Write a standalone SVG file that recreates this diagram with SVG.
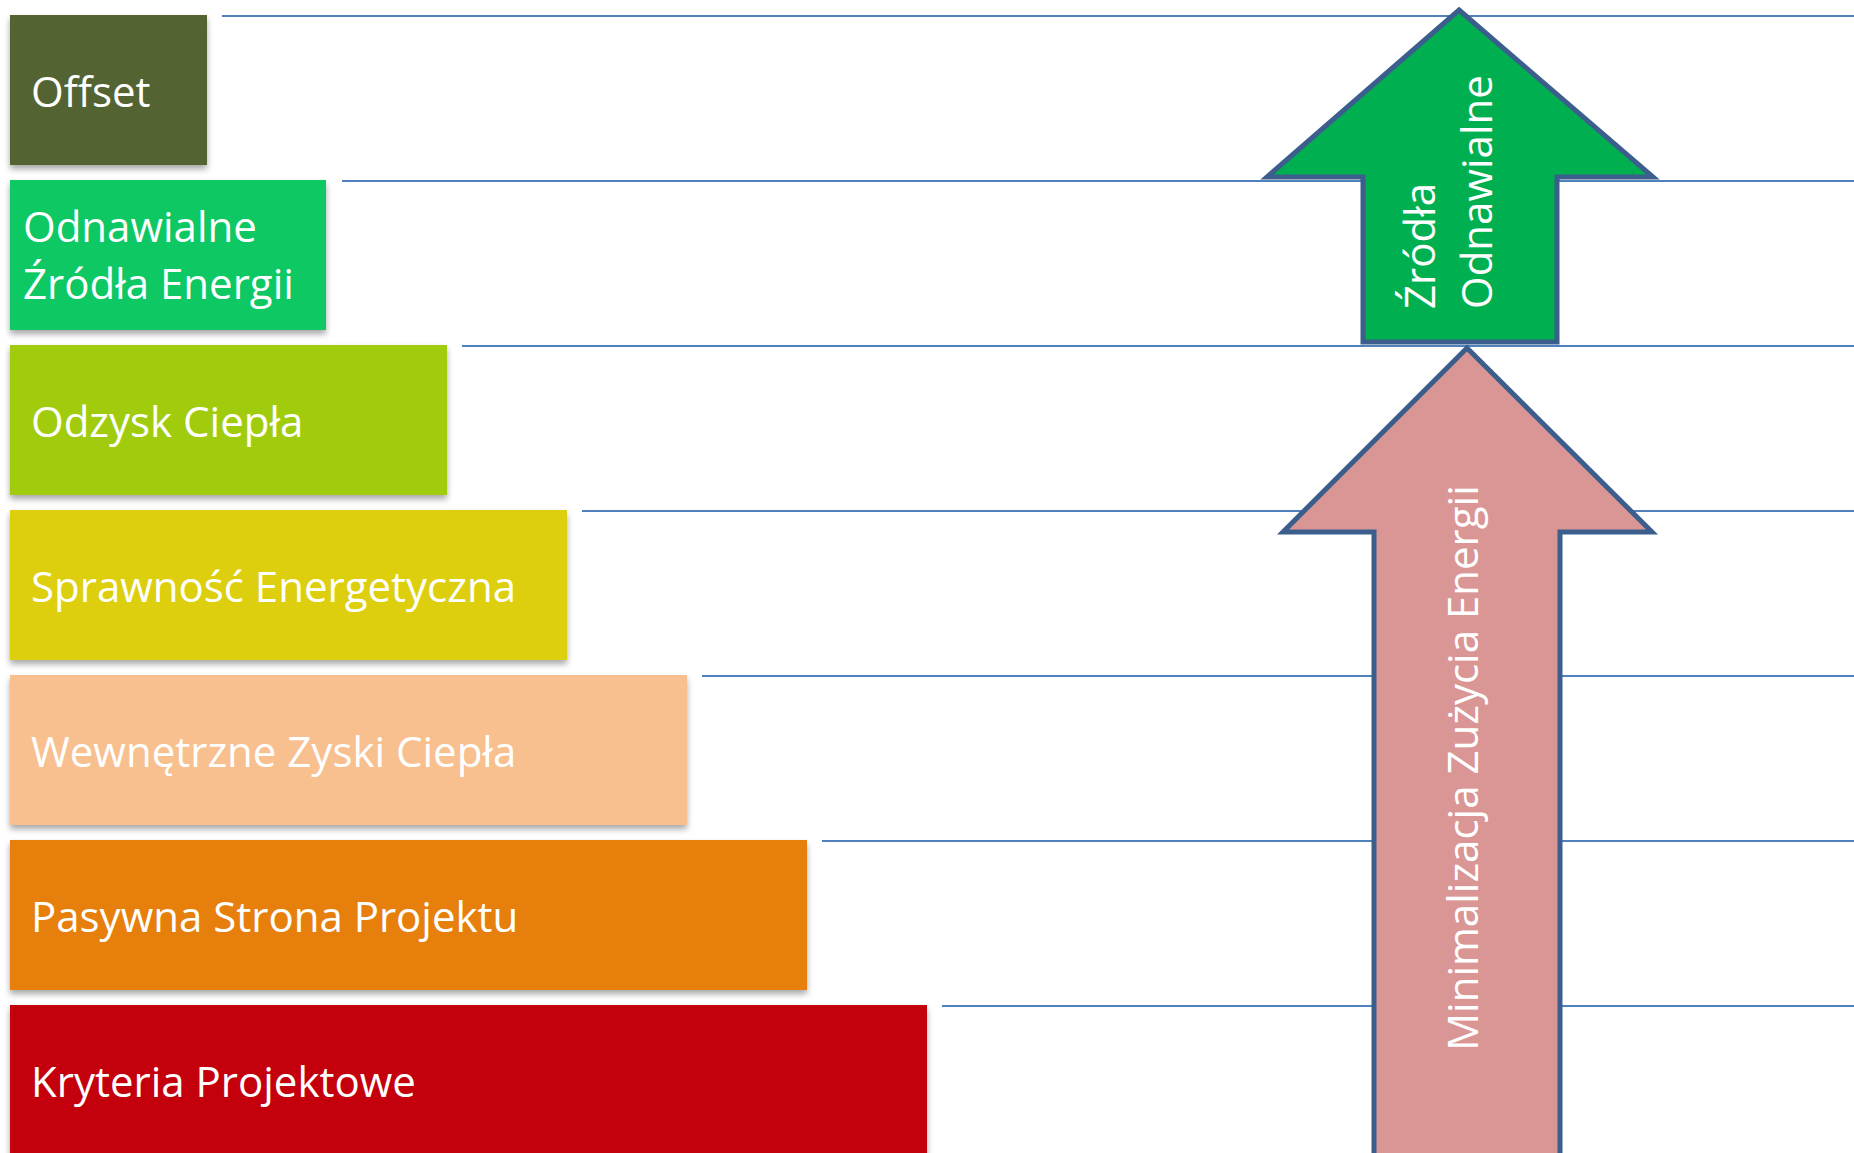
<svg xmlns="http://www.w3.org/2000/svg" width="1854" height="1153" viewBox="0 0 1854 1153">
<defs>
<filter id="sh" x="-5%" y="-10%" width="110%" height="125%">
<feDropShadow dx="0" dy="4" stdDeviation="3" flood-color="#000" flood-opacity="0.35"/>
</filter>
</defs>
<style>
.lbl{font-family:"Open Sans","Liberation Sans",sans-serif;font-size:42px;fill:#ffffff}
.gl{stroke:#4f81bd;stroke-width:2;fill:none}
.arr{stroke:#3b5e8c;stroke-width:5;stroke-linejoin:miter;stroke-miterlimit:10}
</style>
<rect width="1854" height="1153" fill="#ffffff"/>
<g id="connectors">
<line class="gl" x1="222" y1="16" x2="1854" y2="16"/>
<line class="gl" x1="342" y1="181" x2="1854" y2="181"/>
<line class="gl" x1="462" y1="346" x2="1854" y2="346"/>
<line class="gl" x1="582" y1="511" x2="1854" y2="511"/>
<line class="gl" x1="702" y1="676" x2="1854" y2="676"/>
<line class="gl" x1="822" y1="841" x2="1854" y2="841"/>
<line class="gl" x1="942" y1="1006" x2="1854" y2="1006"/>
</g>
<g id="offset">
<rect x="10" y="15" width="197" height="150" fill="#526330" filter="url(#sh)"/>
<text class="lbl" x="31" y="107">Offset</text>
</g>
<g id="oze">
<rect x="10" y="180" width="316" height="150" fill="#0ac864" filter="url(#sh)"/>
<text class="lbl" x="23" y="242">Odnawialne</text>
<text class="lbl" x="23" y="299">Źródła Energii</text>
</g>
<g id="odzysk">
<rect x="10" y="345" width="437" height="150" fill="#a0cc07" filter="url(#sh)"/>
<text class="lbl" x="31" y="437">Odzysk Ciepła</text>
</g>
<g id="sprawnosc">
<rect x="10" y="510" width="557" height="150" fill="#ddcf08" filter="url(#sh)"/>
<text class="lbl" x="31" y="602">Sprawność Energetyczna</text>
</g>
<g id="zyski">
<rect x="10" y="675" width="677" height="150" fill="#f8bf8f" filter="url(#sh)"/>
<text class="lbl" x="31" y="767">Wewnętrzne Zyski Ciepła</text>
</g>
<g id="pasywna">
<rect x="10" y="840" width="797" height="150" fill="#e77f0b" filter="url(#sh)"/>
<text class="lbl" x="31" y="932">Pasywna Strona Projektu</text>
</g>
<g id="kryteria">
<rect x="10" y="1005" width="917" height="160" fill="#c40508" filter="url(#sh)"/>
<text class="lbl" x="31" y="1097">Kryteria Projektowe</text>
</g>
<g id="arrow-oze">
<polygon class="arr" fill="#00b050" points="1459,10 1653,177 1557,177 1557,342 1363,342 1363,177 1267,177"/>
<text class="lbl" transform="translate(1435,309) rotate(-90)">Źródła</text>
<text class="lbl" transform="translate(1492,309) rotate(-90)">Odnawialne</text>
</g>
<g id="arrow-min">
<polygon class="arr" fill="#d99694" points="1467,348 1652,532 1560,532 1560,1165 1374,1165 1374,532 1283,532"/>
<text class="lbl" text-anchor="middle" transform="translate(1478,768) rotate(-90)">Minimalizacja Zużycia Energii</text>
</g>
</svg>
